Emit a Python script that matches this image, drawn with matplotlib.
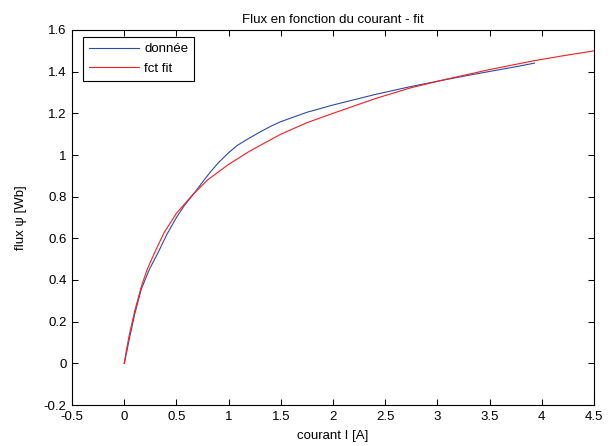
import matplotlib
matplotlib.use("Agg")
import matplotlib.pyplot as plt
from matplotlib.ticker import FormatStrFormatter

plt.rcParams['font.family'] = ['Liberation Sans', 'DejaVu Sans']
plt.rcParams['axes.unicode_minus'] = False

# measured data (donnée)
x_data = [0.0, 0.01, 0.05, 0.10, 0.163, 0.24, 0.32, 0.41, 0.50, 0.58, 0.657,
          0.75, 0.82, 0.897, 1.0, 1.08, 1.167, 1.3, 1.4, 1.5, 1.75, 2.0, 2.2,
          2.4, 2.74, 3.0, 3.25, 3.5, 3.75, 3.93]
y_data = [0.0, 0.02, 0.12, 0.235, 0.355, 0.45, 0.527, 0.62, 0.70, 0.76, 0.808,
          0.87, 0.915, 0.96, 1.011, 1.045, 1.072, 1.11, 1.137, 1.16, 1.205, 1.24,
          1.265, 1.29, 1.328, 1.354, 1.378, 1.401, 1.4235, 1.441]

# fitted function (fct fit)
x_fit = [0.0, 0.02, 0.05, 0.10, 0.163, 0.22, 0.29, 0.38, 0.5, 0.657, 0.8,
         1.0, 1.2, 1.5, 1.75, 2.0, 2.4, 2.74, 3.07, 3.5, 3.93, 4.2, 4.5]
y_fit = [0.0, 0.06, 0.14, 0.25, 0.367, 0.451, 0.53, 0.626, 0.72, 0.81, 0.881,
         0.955, 1.018, 1.10, 1.155, 1.20, 1.27, 1.322, 1.362, 1.41, 1.453,
         1.476, 1.50]

fs = 9.5

fig = plt.figure(figsize=(6.16, 4.46), dpi=100)
ax = fig.add_axes([72 / 616, 41 / 446, 522 / 616, 375 / 446])

ax.plot(x_data, y_data, color='#2b4bab', lw=0.8, label='donnée')
ax.plot(x_fit, y_fit, color='#ff1a1a', lw=0.8, label='fct fit')

ax.set_xlim(-0.5, 4.5)
ax.set_ylim(-0.2, 1.6)
ax.set_xticks([-0.5, 0, 0.5, 1, 1.5, 2, 2.5, 3, 3.5, 4, 4.5])
ax.set_yticks([-0.2, 0, 0.2, 0.4, 0.6, 0.8, 1, 1.2, 1.4, 1.6])
ax.xaxis.set_major_formatter(FormatStrFormatter('%g'))
ax.yaxis.set_major_formatter(FormatStrFormatter('%g'))
ax.tick_params(direction='in', top=True, right=True, length=4.5, width=0.75,
               labelsize=fs, pad=4)
for s in ax.spines.values():
    s.set_linewidth(0.8)

ax.set_title('Flux en fonction du courant - fit', fontsize=fs, pad=5)
ax.set_xlabel('courant I [A]', fontsize=fs, labelpad=5)
ax.set_ylabel('flux ψ [Wb]', fontsize=fs, labelpad=12)

leg = ax.legend(loc='upper left', bbox_to_anchor=(11 / 522, 1 - 7 / 375),
                borderaxespad=0, fontsize=fs, handlelength=3.8,
                handletextpad=0.4, labelspacing=0.55, borderpad=0.45,
                fancybox=False, framealpha=1)
leg.get_frame().set_edgecolor('black')
leg.get_frame().set_linewidth(0.8)

fig.savefig('out.png', dpi=100)
